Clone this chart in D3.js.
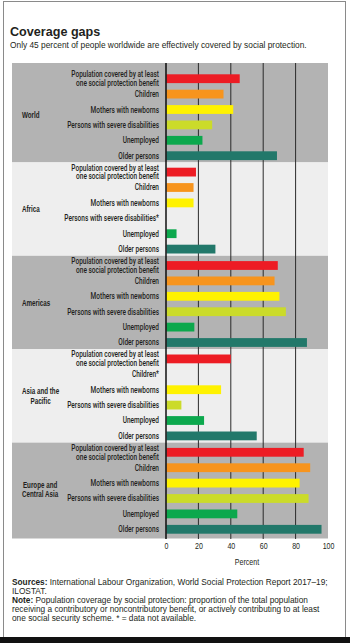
<!DOCTYPE html>
<html>
<head>
<meta charset="utf-8">
<script src="https://cdn.jsdelivr.net/npm/d3@7"></script>
<style>
  body { margin: 0; background: #fff; }
  svg { display: block; }
  text { fill: #231f20; }
</style>
</head>
<body>
<div id="graphic"></div>
<script>
// data (null = data not available)
const regions = ["World", "Africa", "Americas", "Asia and the Pacific", "Europe and Central Asia"];
const regionLines = [["World"], ["Africa"], ["Americas"], ["Asia and the", "Pacific"], ["Europe and", "Central Asia"]];
const categories = ["Population covered", "Children", "Mothers with newborns", "Persons with severe disabilities", "Unemployed", "Older persons"];
const categoryLines = [["Population covered by at least", "one social protection benefit"], ["Children"], ["Mothers with newborns"], ["Persons with severe disabilities"], ["Unemployed"], ["Older persons"]];
const world = [45.5, 35.5, 41.5, 28.5, 22.5, 68.5];
const africa = [18.5, 17, 17, null, 6.5, 30.5];
const americas = [69, 67, 70, 74, 17.5, 87];
const asiaPacific = [40, null, 34, 9.5, 23.5, 56];
const europeCentralAsia = [85, 89, 82.5, 88, 44, 96];
const xTicks = [0, 20, 40, 60, 80, 100];
const colours = ["#ed1c24", "#f7941d", "#fff200", "#cbdb2a", "#0ca84d", "#22786a"];
const panelFills = ["#b3b3b3", "#eeeeee", "#b3b3b3", "#eeeeee", "#b3b3b3"];

const title = "Coverage gaps";
const subtitle = "Only 45 percent of people worldwide are effectively covered by social protection.";
const xAxisLabel = "Percent";

const values = [world, africa, americas, asiaPacific, europeCentralAsia];

// no condensed face installed, so squeeze a normal one horizontally
const sans = "'Liberation Sans', Arial, sans-serif";
const medium = "Roboto, 'Liberation Sans', sans-serif";

function squeeze(sel, f) {
  sel.each(function () {
    const w = this.getComputedTextLength();
    d3.select(this)
      .attr('textLength', w * f)
      .attr('lengthAdjust', 'spacingAndGlyphs');
  });
}

const width = 350, height = 643;

const svg = d3.select('#graphic').append('svg')
  .attr('width', width)
  .attr('height', height);

// frame
svg.append('rect')
  .attr('x', 3.5).attr('y', 1.5)
  .attr('width', 342).attr('height', 636)
  .attr('fill', 'none')
  .attr('stroke', '#8a8a8a')
  .attr('stroke-width', 1);
svg.append('rect')
  .attr('x', 0).attr('y', 637)
  .attr('width', width).attr('height', 6)
  .attr('fill', '#111');

// titles
svg.append('text')
  .attr('x', 10).attr('y', 36)
  .style('font-family', sans)
  .style('font-weight', 'bold')
  .style('font-size', '12.6px')
  .text(title)
  .call(squeeze, 1.0);

svg.append('text')
  .attr('x', 10).attr('y', 47.5)
  .style('font-family', sans)
  .style('font-size', '9.4px')
  .text(subtitle)
  .call(squeeze, 0.89);

// scales
const x = d3.scaleLinear().domain([0, 100]).range([166, 328]);

const regionY = d3.scaleBand()
  .domain(regions)
  .range([69, 536])
  .padding(0);

const rowY = d3.scalePoint()
  .domain(categories)
  .range([2, regionY.bandwidth() + 1])
  .padding(0.5);

const barH = 8.8;

// panels
svg.append('g')
  .selectAll('rect')
  .data(regions)
  .join('rect')
  .attr('x', 12)
  .attr('width', 316)
  .attr('y', (d, i) => regionY(d) - (i === 0 ? 6 : 0))
  .attr('height', (d, i) => regionY.bandwidth() + (i === 0 ? 6 : 0) + (i === regions.length - 1 ? 2.5 : 0))
  .attr('fill', (d, i) => panelFills[i]);

// grid lines
const gridTop = regionY(regions[0]) - 6;
const gridBottom = regionY(regions[regions.length - 1]) + regionY.bandwidth() + 3;

svg.append('g')
  .selectAll('line')
  .data(xTicks.filter(d => d > 0 && d < 100))
  .join('line')
  .attr('x1', d => x(d)).attr('x2', d => x(d))
  .attr('y1', gridTop).attr('y2', gridBottom)
  .attr('stroke', '#2b2b2b')
  .attr('stroke-width', 1);

// bars
const region = svg.append('g')
  .selectAll('g')
  .data(regions)
  .join('g')
  .attr('transform', d => `translate(0,${regionY(d)})`);

region.selectAll('rect')
  .data((d, i) => categories.map((c, j) => ({ c: c, j: j, v: values[i][j] })).filter(e => e.v !== null))
  .join('rect')
  .attr('x', x(0) + 0.5)
  .attr('y', e => rowY(e.c) - barH / 2)
  .attr('width', e => x(e.v) - x(0) - 0.5)
  .attr('height', barH)
  .attr('fill', e => colours[e.j]);

// category labels, one text per line
region.selectAll('text.cat')
  .data((d, i) => categories.flatMap((c, j) => {
    const lines = categoryLines[j];
    return lines.map((l, k) => ({
      c: c,
      k: k - (lines.length - 1) / 2,
      t: l + (values[i][j] === null && k === lines.length - 1 ? '*' : '')
    }));
  }))
  .join('text')
  .attr('class', 'cat')
  .attr('x', 159)
  .attr('y', e => rowY(e.c) + 3 + e.k * 8.8)
  .attr('text-anchor', 'end')
  .style('font-family', medium)
  .style('font-size', '8.8px')
  .style('font-weight', 500)
  .text(e => e.t)
  .call(squeeze, 0.74);

// region labels
region.each(function (d, i) {
  const lines = regionLines[i];
  const mid = regionY.bandwidth() / 2 - (i === 0 ? 1 : 0);
  const texts = lines.map((l, k) => d3.select(this).append('text')
    .attr('class', 'region')
    .attr('x', 22)
    .attr('y', mid + 3.2 + (k - (lines.length - 1) / 2) * 9.5)
    .style('font-family', sans)
    .style('font-size', '9.2px')
    .style('font-weight', 'bold')
    .text(l)
    .call(squeeze, 0.68));
  if (lines.length > 1) {
    const w = texts.map(t => +t.attr('textLength'));
    const maxW = d3.max(w);
    texts.forEach((t, k) => t.attr('x', 22 + (maxW - w[k]) / 2));
  }
});

// zero axis line
svg.append('line')
  .attr('x1', x(0)).attr('x2', x(0))
  .attr('y1', gridTop).attr('y2', gridBottom)
  .attr('stroke', '#000')
  .attr('stroke-width', 1.4);

// x axis
const xAxis = d3.axisBottom(x)
  .tickValues(xTicks)
  .tickSize(0)
  .tickPadding(0)
  .tickFormat(d3.format('d'));

const axisG = svg.append('g')
  .attr('transform', `translate(0,${gridBottom + 4})`)
  .call(xAxis);
axisG.select('.domain').remove();
axisG.selectAll('text')
  .style('font-family', sans)
  .style('font-size', '8.8px')
  .attr('fill', '#231f20')
  .call(squeeze, 0.8);

svg.append('text')
  .attr('x', (x(0) + x(100)) / 2)
  .attr('y', 565)
  .attr('text-anchor', 'middle')
  .style('font-family', sans)
  .style('font-size', '8.8px')
  .text(xAxisLabel)
  .call(squeeze, 0.8);

// source & note
const footer = [
  [["Sources: ", true], ["International Labour Organization, World Social Protection Report 2017–19;", false]],
  [["ILOSTAT.", false]],
  [["Note: ", true], ["Population coverage by social protection: proportion of the total population", false]],
  [["receiving a contributory or noncontributory benefit, or actively contributing to at least", false]],
  [["one social security scheme. * = data not available.", false]]
];

footer.forEach((parts, i) => {
  const t = svg.append('text')
    .attr('x', 12)
    .attr('y', 585 + i * 8.9)
    .style('font-family', sans)
    .style('font-size', '8.4px');
  parts.forEach(p => t.append('tspan')
    .style('font-weight', p[1] ? 'bold' : 'normal')
    .text(p[0]));
  t.call(squeeze, 0.99);
});
</script>
</body>
</html>
